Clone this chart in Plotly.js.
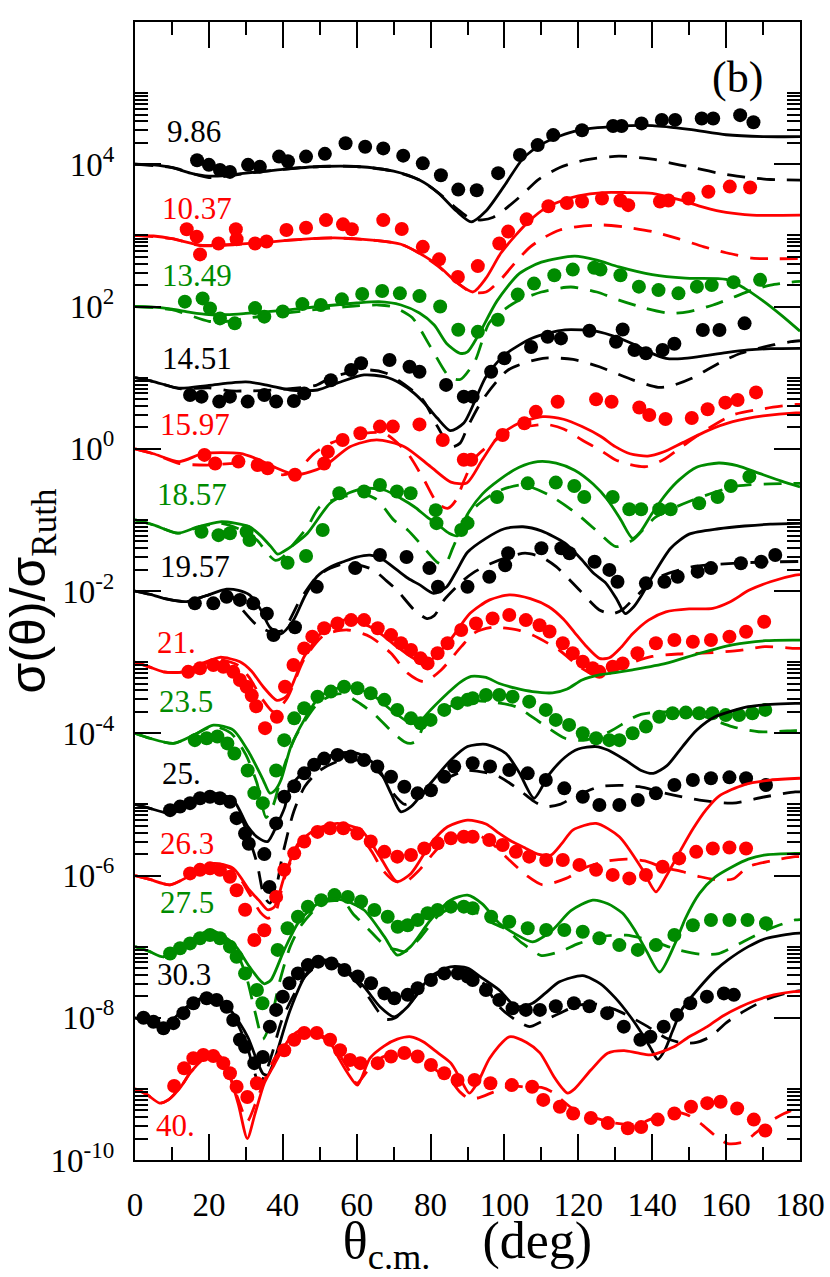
<!DOCTYPE html>
<html><head><meta charset="utf-8">
<script src="https://cdn.plot.ly/plotly-3.0.1.min.js"></script>
<style>html,body{margin:0;padding:0;background:#fff}#chart{width:830px;height:1277px}</style>
</head><body><div id="chart"></div>
<script>
// Energies (labels), colours and vertical offset factors
const energies = ['9.86','10.37','13.49','14.51','15.97','18.57','19.57','21.','23.5','25.','26.3','27.5','30.3','40.'];
const offsets = [1e4,1e3,1e2,1e1,1,1e-1,1e-2,1e-3,1e-4,1e-5,1e-6,1e-7,1e-8,1e-9];
const palette = ['#000000','#ff0000','#008b00'];

// ---- 9.86 ----
const e0_sol_th = [0,5,10,15,20,25,30,40,50,60,70,77,82,87,91,95,100,105,110,115,120,130,140,150,160,170,180];
const e0_sol_r = [1.0,0.98,0.9,0.75,0.68,0.7,0.75,0.85,0.93,0.93,0.8,0.6,0.4,0.22,0.155,0.22,0.5,1.2,1.9,2.5,3.0,3.4,3.5,3.1,2.6,2.45,2.44];
const e0_dash_th = [0,10,20,30,40,50,60,70,77,82,87,91,94,97,100,105,109,115,122,131,140,145,150,158,165,172,180];
const e0_dash_r = [1.0,0.9,0.65,0.74,0.85,0.93,0.93,0.8,0.6,0.4,0.24,0.17,0.165,0.18,0.23,0.38,0.6,0.9,1.15,1.3,1.18,1.04,0.92,0.75,0.66,0.61,0.6];
const e0_pt_th = [16.8,20,23,25.7,30.6,33.8,39,41.4,46.3,51.4,57,62.3,67.2,72.6,77.9,82.8,87.5,92.5,98.3,104.2,109,113.2,121,129.4,131.7,137.1,142.6,146.2,153.4,156.5,163.8,167.4];
const e0_pt_r = [1.14,0.98,0.83,0.78,0.98,0.92,1.28,1.1,1.28,1.4,1.97,1.76,1.67,1.32,1.03,0.7,0.44,0.43,0.75,1.35,1.86,2.57,3.0,3.45,3.45,3.75,4.2,4.2,4.4,4.4,4.9,3.9];

// ---- 10.37 ----
const e1_sol_th = [0,5,10,17.6,25,35,45,54,65,72,77,82,87,91.5,95,99,103,107,111,115,120,126.7,133,140,147,153.8,160,167,180];
const e1_sol_r = [1.0,0.98,0.9,0.73,0.74,0.8,0.88,0.92,0.85,0.75,0.56,0.38,0.22,0.16,0.25,0.56,1.0,1.65,2.4,3.0,3.6,4.0,4.0,3.9,3.2,2.5,2.1,1.93,1.93];
const e1_dash_th = [0,10,17.6,25,35,45,54,65,72,77,82,87,91,95,99,103,107,111,115,120,126.7,133,140,147,154,160,167,172,180];
const e1_dash_r = [1.0,0.9,0.72,0.73,0.8,0.88,0.92,0.85,0.75,0.56,0.37,0.22,0.16,0.16,0.24,0.42,0.69,0.95,1.19,1.33,1.4,1.3,1.13,0.9,0.69,0.57,0.48,0.47,0.47];
const e1_pt_th = [14,16.7,17.6,22.6,27.3,27.5,32.5,35.6,41,46.3,51.7,56.3,58.7,67.2,72.2,77.9,82.3,87.4,92.8,98.6,101,106,111.9,116.9,121,126.4,131.4,133.5,142.1,144.4,149.8,155.2,161,166.5];
const e1_pt_r = [1.22,0.96,0.54,0.77,1.22,0.88,0.77,0.82,1.19,1.28,1.64,1.43,1.22,1.64,1.23,0.69,0.46,0.26,0.37,0.77,1.13,1.68,2.57,2.85,3.0,3.3,3.1,2.66,3.0,3.1,3.3,4.1,4.85,4.7];

// ---- 13.49 ----
const e2_sol_th = [0,5,10,15,20,25,30,40,50,60,66,72,77,81,84.4,88,90,93,98,104,110,119,125,131,140,149,160,165,170,175,180];
const e2_sol_r = [1.0,0.98,0.92,0.83,0.77,0.77,0.8,0.88,1.0,1.12,1.17,1.05,0.81,0.55,0.3,0.22,0.23,0.4,1.2,2.9,4.2,5.1,4.5,3.6,2.8,2.5,2.4,1.8,1.2,0.75,0.45];
const e2_dash_th = [0,10,20,25,30,40,50,60,66,70,75,80,85,88,92,96,102.6,110,118,125,131,138,145,150,156.5,162,167,172,177.6,180];
const e2_dash_r = [1.0,0.9,0.62,0.62,0.68,0.8,0.92,1.02,1.05,0.98,0.7,0.27,0.104,0.094,0.17,0.6,1.12,1.6,1.88,1.6,1.23,0.95,0.8,0.85,1.05,1.35,1.7,2.0,2.2,2.25];
const e2_pt_th = [13.5,18.3,20.3,23,27,32.5,35,40,45.3,50.3,56,61.5,66.9,71.7,77,82.6,87.5,92.8,98.2,103.6,108,113.5,118.5,124.3,126,131.4,136.4,141.7,147.1,152.1,156.1,162,169.2];
const e2_pt_r = [1.17,1.3,0.94,0.68,0.58,0.95,0.72,0.85,1.08,1.05,1.26,1.5,1.65,1.53,1.4,1.0,0.47,0.44,0.65,1.47,2.1,2.75,3.3,3.5,3.3,2.75,1.9,1.7,1.53,1.9,2.0,2.2,2.37];

// ---- 14.51 ----
const e3_sol_th = [0,5,12,20,30,36,42,49.4,55,62,67.5,72,75.6,79,81.8,85.3,89,95,100,107.6,116.4,125.6,134.7,139,143.7,148,152.6,160,166,172,180];
const e3_sol_r = [1.0,0.88,0.71,0.78,0.87,0.78,0.67,0.67,0.85,1.09,1.03,0.82,0.6,0.4,0.27,0.18,0.23,1.03,2.08,3.6,4.7,4.4,3.0,2.3,1.87,1.85,1.97,2.25,2.45,2.55,2.58];
const e3_dash_th = [0,5,12,20,26,30,35,42,49,53,58,63.6,68,73,78,82,85.5,88,90,94,101,110.4,118.6,125.7,134.7,141.6,145,150.7,155,159.7,164,168.8,173,177.6,180];
const e3_dash_r = [1.0,0.88,0.7,0.72,0.65,0.65,0.66,0.7,0.78,1.0,1.18,1.28,1.15,0.8,0.48,0.2,0.106,0.12,0.2,0.48,1.28,1.87,1.8,1.42,0.93,0.73,0.76,0.98,1.3,1.77,2.2,2.58,2.9,3.2,3.3];
const e3_pt_th = [14.9,18,22.8,25.7,30.5,35,38.2,43,45.8,53,58.5,61.2,68.9,74.3,77,84.2,89,91.4,96.4,100,107.2,111.7,115.3,123,130.2,132,135.2,138.3,142.8,146,153.7,158.2,165];
const e3_pt_r = [0.57,0.54,0.46,0.54,0.46,0.57,0.46,0.47,0.6,0.92,1.28,1.59,1.77,1.42,1.21,0.79,0.54,0.54,1.21,1.87,2.7,3.76,3.56,4.55,3.2,4.76,2.45,2.2,2.45,3.0,4.67,4.67,5.8];

// ---- 15.97 ----
const e4_sol_th = [0,5,12,18.5,28.4,33,37.4,43.7,51,58.2,65.4,72.9,80,85.5,89.8,94,98.3,104,110.4,116,121,126,130,134,138.8,143,148,155,161.8,170,178.9,180];
const e4_sol_r = [1.0,0.85,0.66,0.86,0.86,0.72,0.56,0.43,0.56,1.07,1.33,1.07,0.56,0.34,0.33,0.7,1.48,2.3,2.83,2.6,2.05,1.5,1.07,0.85,0.79,0.9,1.2,1.8,2.4,2.9,3.2,3.2];
const e4_dash_th = [0,5,12,19.4,28,35,40,44,48.5,53,62,67.5,73.8,78.3,81.9,84.6,86.9,89,92.3,100.4,105,111.3,116,121,126,130,134,138.3,143,148,155,161.8,170.8,178.9,180];
const e4_dash_r = [1.0,0.85,0.62,0.59,0.62,0.5,0.43,0.5,0.86,1.2,1.65,1.65,0.86,0.36,0.17,0.145,0.19,0.35,0.77,1.65,2.0,2.2,1.9,1.33,0.95,0.7,0.6,0.56,0.7,1.07,1.9,2.98,3.7,4.2,4.2];
const e4_pt_th = [18.8,21.7,28,33.2,35.9,43.3,51.2,52.2,56.2,61,66.3,69.8,77,83.3,89,91,99.5,105.4,108.5,114.4,124.8,129,136.5,139.2,143.6,150.7,155,159.8,163.1,168.1];
const e4_pt_r = [0.82,0.62,0.66,0.59,0.53,0.43,0.62,0.91,1.33,1.65,2.05,2.05,2.2,1.33,0.7,0.7,1.56,2.28,3.3,4.58,4.95,4.58,3.8,2.98,2.62,2.7,3.6,4.45,4.85,6.2];

// ---- 18.57 ----
const e5_sol_th = [0,5,11.6,17,23,27,31,34,36.8,38.6,40.2,43,46.7,52.8,58,62,67.5,72,75.6,79,82.7,85,87.3,90,94,98.6,104,109,114,119,124,128,131.5,134.7,137,140,144,147.3,152,158,163,169,175,180];
const e5_sol_r = [1.0,0.85,0.65,0.8,0.94,0.9,0.8,0.6,0.42,0.33,0.36,0.45,0.65,1.71,2.4,2.78,2.63,2.0,1.53,1.1,0.8,0.65,0.6,1.2,2.3,3.65,5.5,6.6,6.3,5.0,3.2,1.9,1.0,0.55,0.7,1.24,2.4,3.65,5.5,6.3,5.8,4.5,3.5,2.9];
const e5_dash_th = [0,5,11.6,17,23,28,33,36,38,40,42,46.7,50,56,62,65,67.5,70,73.8,78.3,82,84,86,89,92,98,105,112,119.4,125.7,130.2,134.7,141,151,161.6,166,172,178,180];
const e5_dash_r = [1.0,0.85,0.65,0.78,0.9,0.75,0.52,0.33,0.27,0.3,0.4,0.8,1.53,2.1,2.24,2.0,1.46,1.0,0.72,0.4,0.25,0.24,0.4,0.9,1.5,2.5,3.1,2.24,1.24,0.65,0.42,0.52,1.1,1.9,2.9,3.1,3.2,3.25,3.25];
const e5_pt_th = [18,22.6,25.7,30.2,31,41.3,46.3,50.8,55.3,62,66.3,70.9,74.6,81.4,81.6,88.3,90,98,106.3,113.9,118.9,121.6,129.3,133.8,137,141.9,145,152.7,157.7,161.3,166.3];
const e5_pt_r = [0.68,0.61,0.65,0.68,0.52,0.25,0.31,0.72,2.37,2.5,3.1,2.5,2.37,1.37,0.9,0.72,0.9,2.1,3.26,3.34,3.0,2.1,2.1,1.41,1.41,1.41,1.41,1.71,2.1,3.0,4.05];

// ---- 19.57 ----
const e6_sol_th = [0,4,7.7,14,19,24.8,28,31,34,36.5,39.5,42.9,46,49.2,53,56.4,60,63.6,67,70.9,74,77.2,80.8,84.4,87,90,95,100,105,110,116.4,121,124,127.5,130.5,132.7,135,137,140,145,150,158,165,172,180];
const e6_sol_r = [1.0,0.9,0.79,0.71,0.85,1.06,1.02,0.88,0.55,0.31,0.25,0.39,0.85,1.59,2.2,2.58,3.0,3.2,2.8,1.98,1.5,1.21,0.93,1.15,1.9,3.5,5.5,7.5,8.0,7.0,4.7,2.73,1.8,1.28,0.75,0.48,0.6,0.85,1.59,4.0,6.3,7.5,8.2,8.7,8.9];
const e6_dash_th = [0,4,7.7,14,19,24.8,28.4,33,36.5,40,44.7,49.2,53,57.3,61,64.5,68,70.9,75.6,79,81,83.7,89,91.5,96,101,105.6,110,114,120.3,125.7,129.3,132,134.7,138,142,151,161.8,170,180];
const e6_dash_r = [1.0,0.9,0.79,0.71,0.85,1.0,0.6,0.33,0.27,0.28,0.75,1.59,2.1,2.45,2.3,1.98,1.4,1.03,0.54,0.41,0.45,0.75,1.43,1.8,2.4,3.0,3.4,3.0,2.2,1.03,0.54,0.48,0.55,0.75,1.1,1.59,2.2,2.45,2.55,2.6];
const e6_pt_th = [16.2,21.2,24.8,28.4,32,35.7,37.5,43.3,49.2,59.6,66.3,73.5,79.7,82,90,95.9,100.2,101,110,115.4,117.6,124.4,128.4,130.6,138.3,143.3,146.9,152.3,155.9,164,169.5,173.3];
const e6_pt_r = [0.67,0.67,0.83,0.75,0.67,0.48,0.24,0.31,1.15,2.1,3.2,3.0,2.1,1.15,1.15,1.59,2.3,3.4,4.0,4.0,3.4,2.58,1.98,1.35,1.28,1.35,1.59,1.87,2.1,2.45,2.58,3.2];

// ---- 21. ----
const e7_sol_th = [0,4,7.7,13,18,23,28.4,31.5,34.7,38.4,41,45.8,51.2,57.5,63.6,67,70.9,76.3,80,85.3,90.7,96,101.3,107,112,116,119,122,125.7,128.4,131.5,134.7,139,143.7,150,156.4,161,166.3,172,178.7,180];
const e7_sol_r = [1.0,0.85,0.73,0.73,0.95,1.17,1.01,0.75,0.45,0.29,0.33,1.2,2.83,4.0,3.15,2.4,1.65,1.07,1.07,2.05,4.85,7.5,8.8,7.8,6.0,4.0,2.6,1.7,1.13,1.15,1.6,2.5,3.9,5.1,5.6,5.7,7.0,10.3,13.5,16.7,17];
const e7_dash_th = [0,4,7.7,13,18,23,28,31,34.5,37.5,41,45.8,51.2,57.5,63.6,69.3,73.8,78.3,82.8,88.3,92,97,100.4,104,107.6,114.8,120.3,125.7,130.2,135,140,147,155,163,170.5,178.7,180];
const e7_dash_r = [1.0,0.85,0.73,0.73,0.92,1.08,0.9,0.6,0.3,0.2,0.3,1.1,2.4,2.83,2.28,1.33,0.7,0.53,0.77,1.65,2.6,3.1,3.0,2.8,2.4,1.48,0.86,0.62,0.77,1.0,1.2,1.3,1.35,1.45,1.65,1.56,1.56];
const e7_pt_th = [14.4,17.6,21.2,23.9,26.6,28.4,30.2,31.6,32.8,35.2,38.4,40.6,42.9,45.8,48,51.2,54.8,58.5,62,65.7,69.3,72,74.7,77.3,79.2,81.9,84.6,88.3,92.3,96.8,101.3,105.8,109.5,112.2,115.8,118.5,121.2,123.9,125.7,129.3,132,136,141,146,151,155.9,160.9,165.4,170.3];
const e7_pt_r = [0.73,0.82,0.91,0.86,0.73,0.56,0.45,0.34,0.24,0.118,0.17,0.45,0.91,1.56,2.28,3.0,3.5,3.9,3.9,3.0,2.4,1.84,1.48,1.13,0.96,1.33,1.84,2.83,3.5,4.1,4.6,3.9,3.3,2.7,1.84,1.33,1.01,0.82,0.73,0.86,0.96,1.33,1.84,2.05,1.93,2.05,2.28,2.67,3.7];

// ---- 23.5 ----
const e8_sol_th = [0,4,10.4,16,21.2,26.6,31,34.7,36.5,38,39.5,42.2,45.8,50,56.4,63.6,69.3,73.8,76.5,80,84.6,88,91,95,98.6,103,107.6,113,117,121,125.7,130,134.7,143.7,152.8,161.7,170.6,178.7,180];
const e8_sol_r = [1.0,0.85,0.72,0.95,1.3,1.11,0.52,0.22,0.144,0.16,0.22,0.65,1.54,3.27,4.5,3.65,2.13,1.46,1.38,2.13,3.65,5.2,6.3,6.1,5.0,4.3,3.85,3.7,4.2,5.6,6.6,7.1,7.8,9.6,13.3,17.5,20,20.4,20.4];
const e8_dash_th = [0,4,10.4,16,21.2,26,30,33,35.5,37.5,40,43,46,50,56,61,65,70,72.9,74.6,76.5,78,82,86,90,95,103,110,116.4,121.8,128.4,136.4,143.7,152.8,161.6,168.8,178.7,180];
const e8_dash_r = [1.0,0.85,0.72,0.95,1.25,1.0,0.5,0.2,0.065,0.1,0.3,0.8,1.5,2.8,3.6,2.6,1.8,1.0,0.76,0.72,0.8,1.24,1.9,2.5,2.9,2.8,2.37,1.38,0.85,0.8,1.05,1.8,2.0,1.8,1.24,1.05,1.09,1.09];
const e8_pt_th = [16.2,19.4,22.3,25,26.9,30.5,32.3,34.6,38.2,40.4,43.1,45.8,49.4,53,56.6,60.2,63.8,67.5,71,74.7,77.3,80,83.7,87.3,90,91.4,95,98.6,102.2,106.7,111.2,113.9,117.5,121.2,124.8,128.4,131.1,134.7,138.3,141.9,145.5,149.1,152.7,156.3,159.9,163.5,167.1,170.6];
const e8_pt_r = [0.8,0.85,0.9,0.72,0.52,0.3,0.144,0.104,0.3,0.8,1.62,2.25,3.27,3.85,4.5,4.3,3.65,2.95,2.13,1.62,1.38,1.54,2.13,2.65,2.95,3.1,3.45,3.45,3.27,2.78,2.13,1.54,1.31,1.0,0.85,0.8,0.8,1.0,1.24,1.71,1.91,1.95,1.91,1.91,1.8,1.8,1.91,2.13];

// ---- 25. ----
const e9_sol_th = [0,4,9.5,15,21.2,26.6,30.5,33,35.9,38.6,40.5,42,47.4,54.6,60.2,65.6,69.3,71.9,74.7,80,85.5,90,95,100.4,104,108,112,116.4,120,124.7,128,132.7,137,140.3,144,148.2,152,157,166,172,178.7,180];
const e9_sol_r = [1.0,0.88,0.75,1.0,1.43,1.15,0.49,0.35,0.3,0.54,0.9,1.77,3.4,5.2,5.2,3.4,1.43,0.79,0.93,1.98,4.2,6.5,7.0,5.2,2.8,1.22,2.6,4.6,6.0,6.5,5.8,4.2,3.0,2.73,3.5,6.5,11,17,23.6,25.5,26.3,26.3];
const e9_dash_th = [0,4,9.5,15,21.2,26.6,30,33,35,36.5,38,40,43,46,50,56,62,67,70,73,77,85,89.6,95,98.6,104,108,111,115,119,125.7,131,136.5,143.7,152.8,161.7,170.6,178.7,180];
const e9_dash_r = [1.0,0.88,0.75,1.0,1.4,1.1,0.45,0.15,0.05,0.041,0.06,0.2,0.8,1.8,3.0,4.2,4.0,2.5,1.4,1.0,1.3,2.4,3.0,2.8,2.45,1.6,1.1,0.93,1.0,1.28,1.77,1.85,1.77,1.43,1.15,1.04,1.28,1.5,1.5];
const e9_pt_th = [9.5,12.2,14.9,17.6,20.3,23,25.7,27.5,29.8,30.8,35,36.4,38.2,40.4,43.1,45.8,48.5,51.2,54.8,58.4,62,65.6,69.3,72.9,76.5,80.1,83.7,86.4,91.4,96.1,101.3,106.3,111.2,116.2,121.2,125.7,131.1,136.1,141,146,151,155.9,160.9,165.4,170.8];
const e9_pt_r = [0.83,0.93,1.04,1.22,1.28,1.22,1.09,0.64,0.39,0.28,0.2,0.069,0.54,1.28,1.8,2.73,3.6,4.4,4.95,4.7,4.2,3.4,2.45,1.77,1.43,1.58,2.45,3.4,3.78,3.4,3.05,2.73,2.2,1.68,1.28,0.98,0.98,1.15,1.43,1.87,2.2,2.33,2.4,2.33,1.87];

// ---- 26.3 ----
const e10_sol_th = [0,4,9.5,15,21.2,26.6,31,33.5,35.9,37.7,40.4,44.2,49.5,54.8,61.2,66.3,70.9,74.7,80.1,84.6,90,95,98.6,102,105.8,109,112.6,115.5,118.5,124.8,131.1,137.4,141,143.7,148.2,151,154.5,158,165,172,180];
const e10_sol_r = [1.0,0.88,0.74,1.0,1.48,1.26,0.62,0.45,0.33,0.36,0.96,2.83,4.6,5.4,4.35,1.84,0.82,1.07,2.83,4.85,6.0,5.3,3.9,3.0,2.4,2.0,1.94,2.8,4.35,5.4,3.5,1.2,0.59,0.96,2.53,4.5,8.3,13,19,22,23.3];
const e10_dash_th = [0,4,9.5,15,21.2,26.6,31,34,36,38,40.4,44.2,49.5,54.8,60,64,67,70,73,77,82,87,92,96,101.3,106,110.3,116.7,122,128,133,138,143,148.2,153,158,162,166,172,178.7,180];
const e10_dash_r = [1.0,0.88,0.74,1.0,1.45,1.2,0.55,0.3,0.25,0.3,0.9,2.6,4.3,5.0,4.0,2.2,1.2,0.85,0.8,1.2,2.4,3.5,3.8,3.0,1.65,1.0,0.74,0.91,1.3,1.6,1.7,1.6,1.3,1.13,0.96,0.86,0.9,1.33,1.6,1.84,1.84];
const e10_pt_th = [14.9,17.6,20.3,23,25.7,27.5,29.8,32.3,35,38.2,40.4,43.1,45.8,49.4,52.8,56.4,60.2,63.8,67.5,71,74.7,78.3,81.9,85.5,89,91.4,95.9,99.5,103.1,106.7,111.3,115.8,120.3,124.8,129.3,133.8,138.3,142.8,147.3,151.9,156.4,160.9,165.4];
const e10_pt_r = [1.07,1.2,1.26,1.2,0.96,0.62,0.33,0.124,0.17,0.5,1.2,2.05,3.0,4.1,4.6,4.6,3.9,3.0,2.15,1.84,1.94,2.4,2.83,3.33,3.5,3.5,3.15,2.68,2.15,1.84,1.65,1.65,1.41,1.2,1.02,0.91,1.02,1.33,1.74,2.15,2.4,2.48,2.4];

// ---- 27.5 ----
const e11_sol_th = [0,4,7.7,14,20.3,26.6,31,33.5,35,36.8,40.4,44.7,51,56.4,62,67.5,71,74.6,80,85.4,90,94,98.6,103,107.6,113,118,123.9,128,132,135,138.3,142,146.2,149,152.8,157,161.7,166,170.8,178.7,180];
const e11_sol_r = [1.0,0.85,0.72,1.1,1.71,1.11,0.52,0.35,0.3,0.34,0.9,2.37,4.5,4.5,3.27,1.38,0.76,1.0,2.37,4.5,5.3,4.0,2.13,1.5,1.17,1.71,3.2,4.5,4.0,2.94,1.8,0.9,0.44,1.11,2.5,5.6,9.5,13.3,17,19.5,20.5,20.5];
const e11_dash_th = [0,4,7.7,14,20.3,26.6,30,32.5,34.6,36.5,39,42,45,51,56.4,59,63,68,71,73,77,83,90,95,100,105,110,115,120,127,133,140,147,153,158,165,172,178.7,180];
const e11_dash_r = [1.0,0.85,0.72,1.1,1.65,1.0,0.4,0.12,0.05,0.08,0.3,1.0,2.0,4.2,4.3,2.9,1.8,1.0,0.9,0.85,1.3,3.0,3.6,2.37,1.8,1.1,0.75,0.85,1.1,1.4,1.45,1.2,0.9,0.78,0.8,1.2,1.8,2.37,2.4];
const e11_pt_th = [9.5,12.2,14.9,17.6,20.3,23,25.7,27.5,29.8,33,34.5,38.6,41.3,44.1,46.8,50.4,54,57.6,61.2,64.8,68.4,71.1,73.8,76.5,79.2,81.9,85.5,89,91.4,96.4,101.3,106.3,111.3,116.2,121.2,125.7,131.1,136.1,141,146,151,155.9,160.9,165.8,170.8];
const e11_pt_r = [0.8,0.95,1.11,1.31,1.46,1.31,1.0,0.72,0.42,0.245,0.16,0.9,1.81,2.63,3.65,4.5,5.3,5.0,4.3,3.27,2.63,1.9,2.0,2.37,2.94,3.27,3.65,3.65,3.46,2.63,2.24,1.81,1.71,1.71,1.62,1.31,1.05,0.9,1.05,1.46,2.0,2.37,2.37,2.37,2.13];

// ---- 30.3 ----
const e12_sol_th = [0,4,7.7,13,19.4,25.7,30.5,33,34.6,35.9,37,38.6,42,46.5,51,56.4,62,66.3,70.2,73.8,80,85.4,90,94,98.6,103.1,107.6,111,114.9,121.2,126,130,134,137.2,139.5,141.5,143.5,145.5,148,152.6,157,160.5,166,170.8,178.7,180];
const e12_sol_r = [1.0,0.85,0.71,1.3,1.98,1.29,0.54,0.25,0.165,0.155,0.2,0.35,1.29,4.2,6.5,5.2,2.73,1.43,1.03,1.43,3.8,5.2,5.0,3.6,2.45,1.43,1.6,2.2,3.2,3.9,3.0,1.9,1.05,0.6,0.38,0.26,0.36,0.65,1.3,2.6,4.6,6.5,10,13,15.4,15.5];
const e12_dash_th = [0,4,7.7,13,19.4,25.7,30,32,33.5,35,37,40,46,51,56,62,66,68,70.5,74,80,85,90,94,98.6,103,106.8,110,115,120,125,130,134.5,138.8,143.7,148.2,152,156,160,165,170.8,176,180];
const e12_dash_r = [1.0,0.85,0.71,1.3,1.95,1.25,0.45,0.2,0.12,0.15,0.3,1.0,3.8,6.0,5.0,2.4,1.2,0.95,1.0,1.5,3.5,4.8,4.6,3.2,1.43,0.93,0.75,0.88,1.16,1.5,1.55,1.3,1.0,0.75,0.52,0.44,0.45,0.55,0.85,1.25,1.8,2.2,2.4];
const e12_pt_th = [2.3,5,7.7,10.4,13.1,15.8,19.4,22.1,24.8,26.6,28.4,29.8,32.3,34.6,36.5,38.2,40,41.8,44.1,46.8,49.6,53.2,56.7,60.3,63.9,67.5,70.2,73.8,76.5,80.1,83.7,87.4,90,91.4,95,98.6,102.2,105.8,109.6,113.9,118.8,123,127.8,132.3,136.8,139.5,143.1,146.7,150.3,154.8,159.4,162.1];
const e12_pt_r = [1.0,0.88,0.71,0.84,1.16,1.6,1.88,1.78,1.43,0.93,0.49,0.39,0.23,0.28,0.75,1.29,1.98,3.05,4.2,5.5,6.15,5.8,4.7,3.8,3.05,2.2,1.88,2.1,2.6,3.4,4.2,4.2,3.8,3.4,2.45,1.78,1.36,1.29,1.29,1.45,1.6,1.45,1.16,0.75,0.49,0.54,0.75,1.09,1.6,1.98,2.2,2.1];

// ---- 40. ----
const e13_sol_th = [0,3,6.7,9,12.4,15,18.2,21,23,25.4,28,30.4,32.5,35,37.7,39.8,42,44.9,48,51.2,53,55,57.6,60.2,63.6,67.4,71,74.7,78,82,85.5,88,90.5,93,96,101.3,106,109.6,113.4,115.8,117.1,119,123.4,127.9,132.4,136,139.6,145.9,150,154.9,159,163.9,168,172.9,178.3,180];
const e13_sol_r = [1.0,0.85,0.63,0.7,1.07,1.7,2.55,3.2,2.9,1.66,0.6,0.2,0.45,1.2,2.2,3.5,5.2,6.7,6.2,5.4,4.4,2.8,1.66,1.13,2.7,4.0,5.0,5.4,4.6,3.2,2.3,1.4,0.87,1.3,2.7,5.4,4.5,3.2,1.48,1.0,0.87,1.0,1.84,3.17,3.45,3.2,3.0,3.9,5.4,7.5,10.5,14.3,17.5,20.9,23.3,23.5];
const e13_dash_th = [0,3,6.7,9,12.4,15,18.2,21,23,25.4,28,30.4,32.5,35,38,42,45,48,51,55,58,60,63,67,71,75,79,83,86,88,90,93,97,102,106,110,113,118,124,130,136,142,146,150,153,157.5,160.4,164.9,168,171.2,175.7,180];
const e13_dash_r = [1.0,0.85,0.63,0.7,1.07,1.7,2.5,3.0,2.6,1.6,0.7,0.35,0.6,1.3,2.8,4.6,5.6,5.8,5.2,3.2,1.8,1.2,1.8,2.8,3.2,3.0,2.3,1.6,1.2,0.9,0.75,0.75,0.9,1.1,1.05,1.05,0.9,0.55,0.4,0.33,0.32,0.42,0.48,0.42,0.33,0.21,0.17,0.18,0.24,0.33,0.45,0.55];
const e13_pt_th = [10.6,13.3,15.8,18.5,21.2,23.9,25.7,27.5,30.4,33,40.4,43.1,45.8,49.2,52.8,55.5,58.2,61,65.7,69.3,72.9,76.5,80.1,83.7,87.3,91.9,96.2,102,107.5,110.5,115,118.6,123.4,128,133.4,137,141.5,146,150.5,154.9,158.5,163,167.5,170.6];
const e13_pt_r = [1.1,1.95,2.7,3.0,2.9,2.3,1.66,1.07,0.77,1.2,3.5,4.9,6.1,6.1,4.9,3.5,2.55,2.3,2.3,2.85,3.2,2.85,2.17,1.66,1.33,1.33,1.2,1.13,1.07,0.7,0.56,0.45,0.39,0.33,0.28,0.29,0.37,0.45,0.56,0.63,0.66,0.53,0.37,0.26];

const solTh = [e0_sol_th,e1_sol_th,e2_sol_th,e3_sol_th,e4_sol_th,e5_sol_th,e6_sol_th,e7_sol_th,e8_sol_th,e9_sol_th,e10_sol_th,e11_sol_th,e12_sol_th,e13_sol_th];
const solR = [e0_sol_r,e1_sol_r,e2_sol_r,e3_sol_r,e4_sol_r,e5_sol_r,e6_sol_r,e7_sol_r,e8_sol_r,e9_sol_r,e10_sol_r,e11_sol_r,e12_sol_r,e13_sol_r];
const dashTh = [e0_dash_th,e1_dash_th,e2_dash_th,e3_dash_th,e4_dash_th,e5_dash_th,e6_dash_th,e7_dash_th,e8_dash_th,e9_dash_th,e10_dash_th,e11_dash_th,e12_dash_th,e13_dash_th];
const dashR = [e0_dash_r,e1_dash_r,e2_dash_r,e3_dash_r,e4_dash_r,e5_dash_r,e6_dash_r,e7_dash_r,e8_dash_r,e9_dash_r,e10_dash_r,e11_dash_r,e12_dash_r,e13_dash_r];
const ptTh = [e0_pt_th,e1_pt_th,e2_pt_th,e3_pt_th,e4_pt_th,e5_pt_th,e6_pt_th,e7_pt_th,e8_pt_th,e9_pt_th,e10_pt_th,e11_pt_th,e12_pt_th,e13_pt_th];
const ptR = [e0_pt_r,e1_pt_r,e2_pt_r,e3_pt_r,e4_pt_r,e5_pt_r,e6_pt_r,e7_pt_r,e8_pt_r,e9_pt_r,e10_pt_r,e11_pt_r,e12_pt_r,e13_pt_r];

// label pixel positions (left edge x, centre y) in the 830x1277 frame
const labelPx = [[165,132],[160,208],[160,275],[160,359],[158,424],[155,494],[158,566],[155,642],[157,701],[160,773],[158,843],[158,902],[155,974],[154,1125]];

const SERIF = '"Liberation Serif", "Times New Roman", Times, serif';

const W = 830, H = 1277;
const M = {l:135, r:30, t:22, b:117};
const PW = W - M.l - M.r, PH = H - M.t - M.b;

const traces = [];
for (let k = 0; k < energies.length; k++) {
  const c = palette[k % 3], s = offsets[k];
  traces.push({x: ptTh[k], y: ptR[k].map(v => v*s), mode:'markers', type:'scatter',
    marker:{color:c, size:14, symbol:'circle', line:{width:0}}, hoverinfo:'skip'});
  traces.push({x: solTh[k], y: solR[k].map(v => v*s), mode:'lines', type:'scatter',
    line:{color:c, width:2.8, shape:'spline', smoothing:0.7}, hoverinfo:'skip'});
  traces.push({x: dashTh[k], y: dashR[k].map(v => v*s), mode:'lines', type:'scatter',
    line:{color:c, width:2.8, dash:'18px,12px', shape:'spline', smoothing:0.7}, hoverinfo:'skip'});
}

const majorVals = [], majorText = [];
for (let e = -10; e <= 6; e += 2) { majorVals.push(Math.pow(10,e)); majorText.push('10<sup>'+e+'</sup>'); }
const minorVals = [];
for (let e = -10; e <= 4; e += 2) for (let m = 2; m <= 10; m++) minorVals.push(m*Math.pow(10,e));

const annotations = energies.map((t,k) => ({
  text: t, xref:'paper', yref:'paper', showarrow:false,
  x: (labelPx[k][0]-M.l)/PW, y: 1-(labelPx[k][1]-M.t)/PH,
  xanchor:'left', yanchor:'middle',
  font:{family:SERIF, size:31, color: palette[k%3]}
}));
annotations.push({text:'(b)', xref:'paper', yref:'paper', showarrow:false,
  x:(737-M.l)/PW, y:1-(77-M.t)/PH, xanchor:'center', yanchor:'middle',
  font:{family:SERIF, size:44, color:'#000'}});

const axisCommon = {
  showline:true, linewidth:2, linecolor:'#000', mirror:'allticks',
  ticks:'inside', ticklen:26, tickwidth:2, tickcolor:'#000',
  showgrid:false, zeroline:false,
  tickfont:{family:SERIF, size:33, color:'#000'}
};

const layout = {
  width: W, height: H, margin: M, paper_bgcolor:'#fff', plot_bgcolor:'#fff',
  showlegend:false, hovermode:false,
  font:{family:SERIF, color:'#000'},
  xaxis: Object.assign({}, axisCommon, {
    range:[0,180], tickmode:'linear', tick0:0, dtick:20, ticklabelstandoff:14,
    minor:{dtick:10, ticklen:13, tickwidth:2, tickcolor:'#000', ticks:'inside'},
    title:{text:'θ<sub>c.m.</sub>\u00A0\u00A0\u00A0\u00A0(deg)', standoff:12,
      font:{family:SERIF, size:52, color:'#000'}}
  }),
  yaxis: Object.assign({}, axisCommon, {
    type:'log', range:[-10,6], tickmode:'array', tickvals:majorVals, ticktext:majorText,
    ticklabelstandoff:12,
    minor:{tickmode:'array', tickvals:minorVals, ticklen:13, tickwidth:2, tickcolor:'#000', ticks:'inside'},
    title:{text:'<span style="font-family:Liberation Sans, Arial, sans-serif">σ(θ)/σ</span><sub>Ruth</sub>', standoff:4,
      font:{family:SERIF, size:50, color:'#000'}}
  }),
  annotations: annotations
};

Plotly.newPlot('chart', traces, layout, {staticPlot:true, displayModeBar:false});
</script></body></html>
